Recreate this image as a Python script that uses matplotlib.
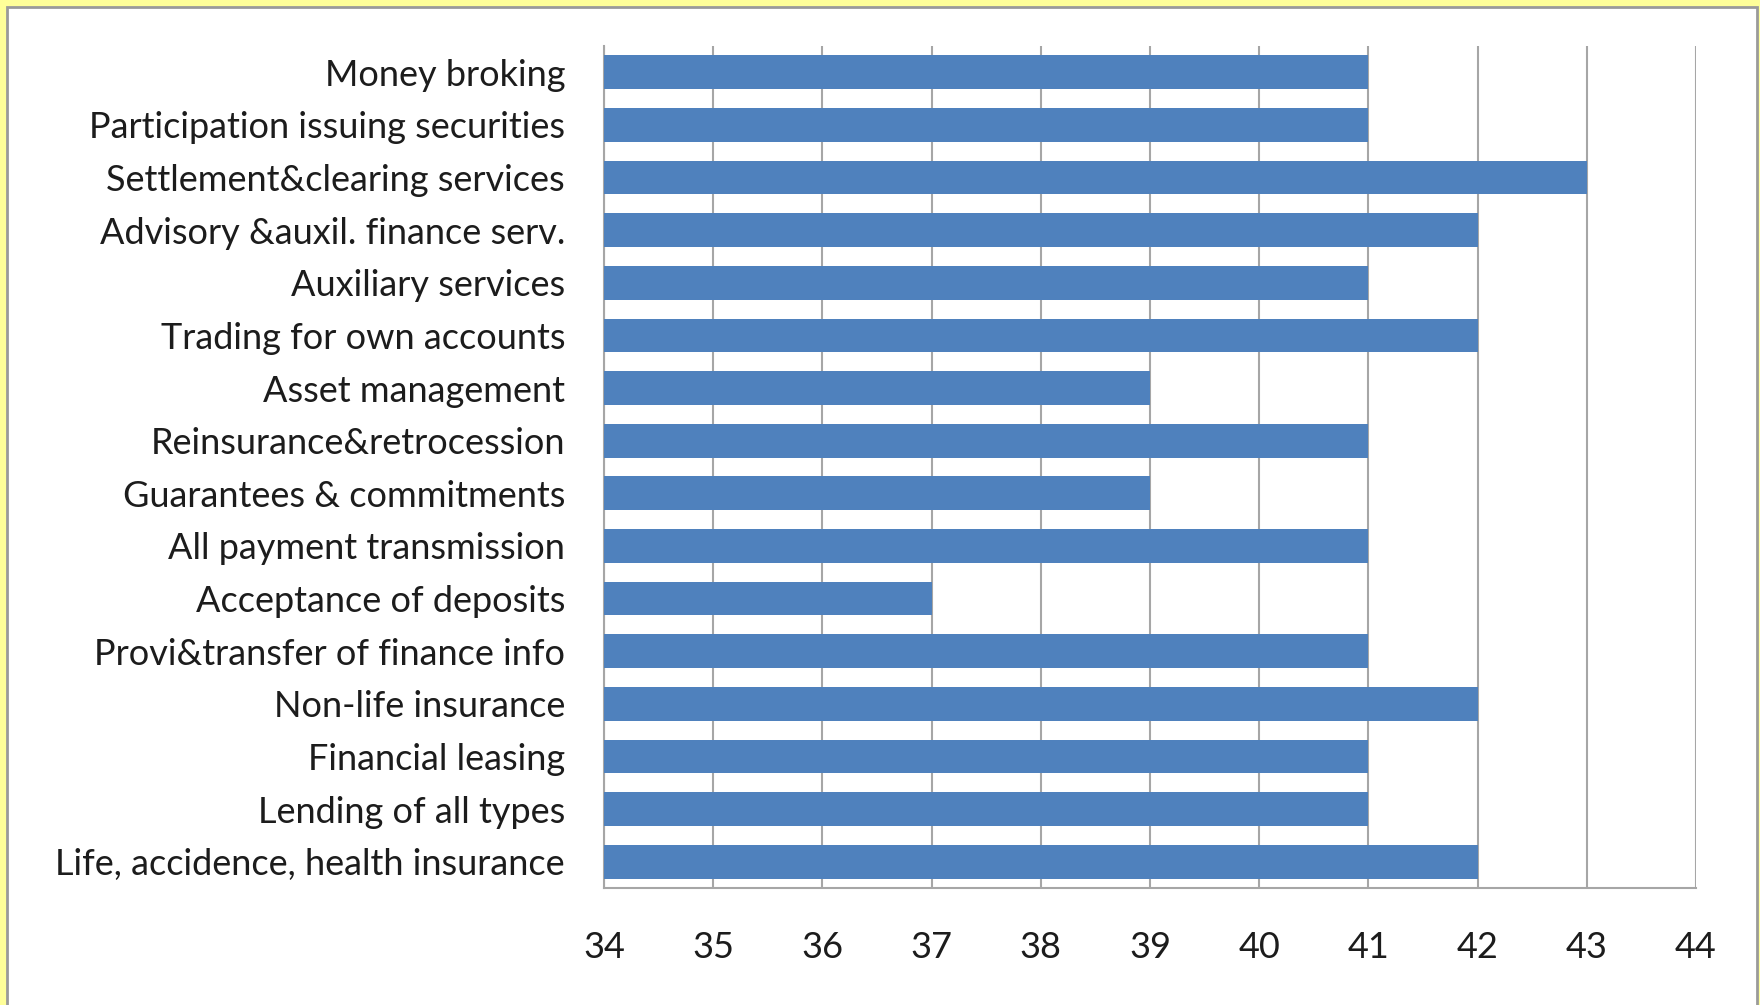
import matplotlib
matplotlib.use("Agg")
from matplotlib import pyplot as plt
from matplotlib.patches import Rectangle
from typing import List

# categories listed top to bottom as in the chart
services: List[str] = [
    "Money broking",
    "Participation issuing securities",
    "Settlement&clearing services",
    "Advisory &auxil. finance serv.",
    "Auxiliary services",
    "Trading for own accounts",
    "Asset management",
    "Reinsurance&retrocession",
    "Guarantees & commitments",
    "All payment transmission",
    "Acceptance of deposits",
    "Provi&transfer of finance info",
    "Non-life insurance",
    "Financial leasing",
    "Lending of all types",
    "Life, accidence, health insurance",
]
scores: List[float] = [41, 41, 43, 42, 41, 42, 39, 41, 39, 41, 37, 41, 42, 41, 41, 42]
x_ticks: List[int] = list(range(34, 45))

BAR_COLOR = "#4F81BD"
GRID_COLOR = "#A6A6A6"
TEXT_COLOR = "#1c1c1c"


def services_bar_chart() -> None:
    """Horizontal bar chart on a yellow framed panel"""
    fig = plt.figure(figsize=(17.6, 10.05), dpi=100, facecolor="#FFFF99")

    # white panel with grey edge
    panel = Rectangle((7 / 1760, -0.01), 1750 / 1760, 1 - 7 / 1005 + 0.01,
                      transform=fig.transFigure, facecolor="white",
                      edgecolor="#9a9a9a", linewidth=2, zorder=-5)
    fig.patches.append(panel)

    ax = fig.add_axes([604 / 1760, 1 - 888 / 1005, 1092 / 1760, 842 / 1005])
    ax.set_zorder(5)
    ax.set_facecolor("white")

    pos = list(range(len(services)))
    ax.barh(pos, [v - 34 for v in scores], left=34, height=0.64,
            color=BAR_COLOR, zorder=3)

    ax.set_xlim(34, 44)
    ax.set_ylim(len(services) - 0.5, -0.5)
    ax.set_xticks(x_ticks)
    ax.set_yticks(pos)
    ax.set_yticklabels(services)

    ax.grid(axis="x", color=GRID_COLOR, linewidth=1.5, zorder=0)
    for side in ["top", "right"]:
        ax.spines[side].set_visible(False)
    for side in ["left", "bottom"]:
        ax.spines[side].set_color(GRID_COLOR)
        ax.spines[side].set_linewidth(1.5)

    ax.tick_params(axis="y", length=0, pad=28, labelsize=26, labelcolor=TEXT_COLOR)
    ax.tick_params(axis="x", length=0, pad=31, labelsize=26, labelcolor=TEXT_COLOR)
    for lab in ax.get_yticklabels() + ax.get_xticklabels():
        lab.set_family("Lato")

    fig.savefig("out.png", dpi=100, facecolor=fig.get_facecolor())


if __name__ == '__main__':
    services_bar_chart()
